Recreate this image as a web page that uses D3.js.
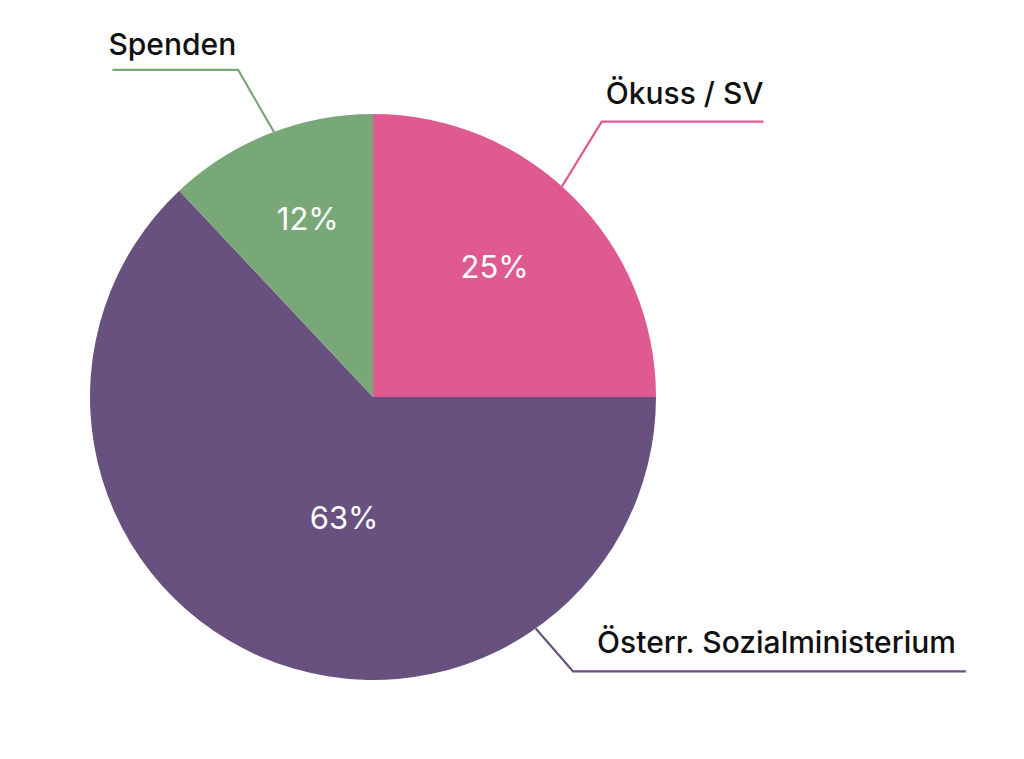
<!DOCTYPE html>
<html><head><meta charset="utf-8">
<script src="https://cdn.jsdelivr.net/npm/d3@7"></script>
<style>html,body{margin:0;padding:0;background:#fff;}svg{display:block;}</style>
</head><body>
<svg id="chart" width="1024" height="759"></svg>
<script>
const categories = ["Ökuss / SV", "Österr. Sozialministerium", "Spenden"];
const values = [25, 63, 12];
const colors = ["#DE5A91", "#68517F", "#79A878"];
// label layout: angle (deg) where leader leaves pie, elbow angle/radius factor, side
const leaderStart = [41.9, 144.9, -20.5];
const leaderElbowAngle = [39.7, 143.9, -22.4];
const leaderElbowR = [1.265, 1.2, 1.25];
const leaderSide = [1, 1, -1];
const pctAngleShift = [-2, -10, 1.5];
const pctR = [0.63, 0.44, 0.67];

const W = 1024, H = 759, cx = 373, cy = 397, R = 283;
const svg = d3.select("#chart");
const g = svg.append("g").attr("transform", `translate(${cx},${cy})`);
const data = categories.map((c, i) => ({name: c, value: values[i], color: colors[i], i}));
const pie = d3.pie().value(d => d.value).sort(null);
const arc = d3.arc().innerRadius(0).outerRadius(R);
const arcs = pie(data);
g.selectAll("path.slice").data(arcs).enter().append("path")
  .attr("class", "slice").attr("d", arc).attr("fill", d => d.data.color);

const rad = a => a * Math.PI / 180;
const pt = (a, r) => [r * Math.sin(rad(a)), -r * Math.cos(rad(a))];

// percent labels
g.selectAll("text.pct").data(arcs).enter().append("text")
  .attr("class", "pct")
  .attr("transform", d => {
    const mid = (d.startAngle + d.endAngle) / 2 * 180 / Math.PI + pctAngleShift[d.data.i];
    const p = pt(mid, R * pctR[d.data.i]);
    return `translate(${p[0]},${p[1]})`;
  })
  .attr("text-anchor", "middle").attr("dy", "0.36em")
  .attr("fill", "#fff").style("font-family", "Inter, sans-serif").style("font-size", "31px")
  .style("font-weight", 400)
  .text(d => d.data.value + "%");

// leader lines & names
arcs.forEach(d => {
  const i = d.data.i;
  const s = pt(leaderStart[i], R);
  const e = pt(leaderElbowAngle[i], R * leaderElbowR[i]);
  const t = g.append("text")
    .style("font-family", "Inter, sans-serif").style("font-size", "30px").style("font-weight", 500)
    .attr("fill", "#111")
    .text(d.data.name);
  const tw = t.node().getComputedTextLength();
  const side = leaderSide[i];
  const lead = i === 1 ? 24 : 4;
  const endX = side > 0 ? e[0] + lead + tw + (i === 1 ? 10 : 0) : e[0] - tw + 2;
  if (side > 0) t.attr("x", e[0] + lead).attr("y", e[1] - 18);
  else t.attr("x", e[0] - tw - 2).attr("y", e[1] - 15);
  g.append("path")
    .attr("d", d3.line()([s, e, [endX, e[1]]]))
    .attr("fill", "none").attr("stroke", d.data.color).attr("stroke-width", 2.2);
});
</script>
</body></html>
